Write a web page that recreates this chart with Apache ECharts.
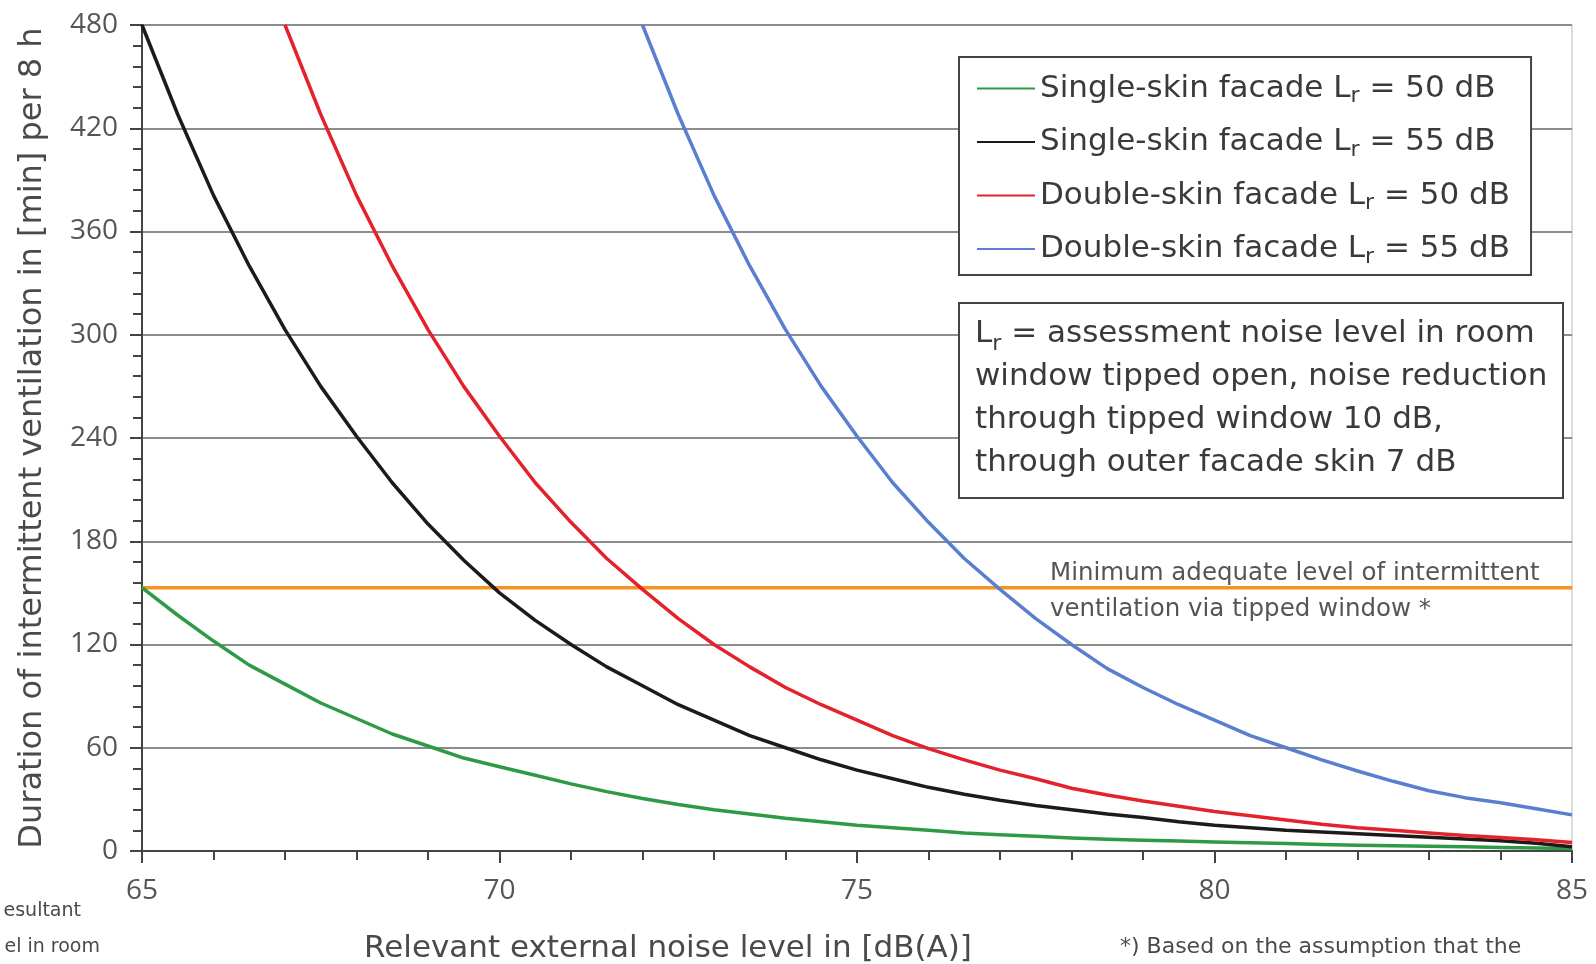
<!DOCTYPE html>
<html>
<head>
<meta charset="utf-8">
<script src="https://cdn.jsdelivr.net/npm/echarts@6/dist/echarts.min.js"></script>
<style>
html,body{margin:0;padding:0;background:#fff;}
#chart{width:1596px;height:964px;}
</style>
</head>
<body>
<div id="chart"></div>
<script>
// External noise level [dB(A)]
const noiseLevels = [65,65.5,66,66.5,67,67.5,68,68.5,69,69.5,70,70.5,71,71.5,72,72.5,73,73.5,74,74.5,75,75.5,76,76.5,77,77.5,78,78.5,79,79.5,80,80.5,81,81.5,82,82.5,83,83.5,84,84.5,85];

const seriesNames = [
  'Single-skin facade Lr = 50 dB',
  'Single-skin facade Lr = 55 dB',
  'Double-skin facade Lr = 50 dB',
  'Double-skin facade Lr = 55 dB'
];

// Duration of intermittent ventilation [min] per 8 h (null = above 480, off chart)
const singleSkin50 = [153,137,122,108,97,86,77,68,61,54,49,44,39,34.5,30.5,27,24,21.5,19,17,15,13.5,12,10.5,9.5,8.5,7.5,6.8,6.2,5.8,5.3,4.8,4.3,3.8,3.4,3,2.7,2.4,2.1,1.8,1.5];
const singleSkin55 = [480,428,381,340,303,270,241,214,190,169,150,134,120,107,96,85,76,67,60,53,47,42,37,33,29.5,26.5,24,21.5,19.5,17,15,13.5,12,11,10,9,8,7,6,4.5,2.5];
const doubleSkin50 = [null,null,null,null,480,428,381,340,303,270,241,214,191,170,152,135,120,107,95,85,76,67,59.5,53,47,42,36.5,32.5,29,26,23,20.5,18,15.5,13.5,12,10.5,9,7.8,6.5,5];
const doubleSkin55 = [null,null,null,null,null,null,null,null,null,null,null,null,null,null,480,428,381,340,303,270,241,214,191,170,152,135,120,106,95,85,76,67,60,53,46.5,40.5,35,31,28,24.5,21];

const minimumLevel = 153;

const yTicks = [0,60,120,180,240,300,360,420,480];
const xTicks = [65,70,75,80,85];

const seriesValues = [singleSkin50, singleSkin55, doubleSkin50, doubleSkin55];
const seriesColors = ['#2f9a45', '#1e1a1a', '#e4222c', '#5a7fd0'];

const NUM_FONT = 'Open Sans';
const FONT = 'DejaVu Sans';

function toPairs(arr){
  const out = [];
  noiseLevels.forEach((x,i)=>{ if(arr[i]!=null) out.push([x, arr[i]]); });
  return out;
}

const chart = echarts.init(document.getElementById('chart'), null, {renderer:'canvas'});

const series = seriesNames.map((name,i)=>({
  name: name,
  type: 'line',
  data: toPairs(seriesValues[i]),
  showSymbol: false,
  symbol: 'none',
  smooth: false,
  lineStyle: {color: seriesColors[i], width: 3.5, join: 'round'},
  itemStyle: {color: seriesColors[i]},
  z: 3
}));

series.push({
  name: 'Minimum',
  type: 'line',
  data: [[xTicks[0], minimumLevel],[xTicks[xTicks.length-1], minimumLevel]],
  showSymbol: false,
  symbol: 'none',
  lineStyle: {color: '#f7941d', width: 3.5},
  itemStyle: {color: '#f7941d'},
  z: 2
});

const richMain = {fontFamily: FONT, fontSize: 31, color: '#3a3a3a', lineHeight: 38};
const richSub = {fontFamily: FONT, fontSize: 22, color: '#3a3a3a', lineHeight: 20, verticalAlign: 'bottom'};

const option = {
  backgroundColor: '#ffffff',
  animation: false,
  grid: {
    left: 142, right: 24, top: 25, bottom: 113,
    show: true, borderColor: '#b8b8b8', borderWidth: 1
  },
  legend: {
    data: seriesNames,
    orient: 'vertical',
    left: 959, top: 57,
    backgroundColor: '#ffffff',
    borderColor: '#444',
    borderWidth: 2,
    borderRadius: 0,
    padding: [16, 21, 7, 18],
    itemGap: 19,
    itemWidth: 58,
    itemHeight: 2,
    icon: 'rect',
    formatter: function(n){
      const parts = n.split('Lr');
      return '{a|' + parts[0] + 'L}{s|r}{a|' + parts[1] + '}';
    },
    textStyle: {rich: {a: richMain, s: richSub}}
  },
  xAxis: {
    type: 'value',
    min: xTicks[0], max: xTicks[xTicks.length-1], interval: 5,
    axisLine: {show: true, onZero: false, lineStyle: {color: '#444', width: 2}},
    axisTick: {show: true, length: 12, lineStyle: {color: '#444', width: 2}},
    minorTick: {show: true, splitNumber: 5, length: 9, lineStyle: {color: '#444', width: 2}},
    splitLine: {show: false},
    axisLabel: {fontFamily: NUM_FONT, fontSize: 28, color: '#555', margin: 26}
  },
  yAxis: {
    type: 'value',
    min: yTicks[0], max: yTicks[yTicks.length-1], interval: 60,
    axisLine: {show: true, lineStyle: {color: '#444', width: 2}},
    axisTick: {show: true, length: 12, lineStyle: {color: '#444', width: 2}},
    minorTick: {show: true, splitNumber: 5, length: 9, lineStyle: {color: '#444', width: 2}},
    splitLine: {show: true, lineStyle: {color: '#8c8c8c', width: 2}},
    axisLabel: {fontFamily: NUM_FONT, fontSize: 28, color: '#555', margin: 24}
  },
  graphic: [
    {
      type: 'rect', z: 10,
      shape: {x: 959, y: 303, width: 604, height: 195},
      style: {fill: '#ffffff', stroke: '#444', lineWidth: 2}
    },
    {
      type: 'text', z: 11, left: 975, top: 318,
      style: {
        text: '{a|L}{s|r}{a| = assessment noise level in room}\n{a|window tipped open, noise reduction}\n{a|through tipped window 10 dB,}\n{a|through outer facade skin 7 dB}',
        rich: {
          a: {fontFamily: FONT, fontSize: 31, fill: '#3a3a3a', lineHeight: 43},
          s: {fontFamily: FONT, fontSize: 22, fill: '#3a3a3a', lineHeight: 26, verticalAlign: 'bottom'}
        }
      }
    },
    {
      type: 'text', z: 11, left: 1050, top: 556,
      style: {
        text: 'Minimum adequate level of intermittent\nventilation via tipped window *',
        fontFamily: FONT, fontSize: 24.5, fill: '#555', lineHeight: 36
      }
    },
    {
      type: 'text', z: 11,
      x: 33, y: 438, rotation: Math.PI/2,
      style: {
        text: 'Duration of intermittent ventilation in [min] per 8 h',
        fontFamily: FONT, fontSize: 32, fill: '#4a4a4a',
        align: 'center', verticalAlign: 'middle'
      }
    },
    {
      type: 'text', z: 11, x: 668, y: 949,
      style: {
        text: 'Relevant external noise level in [dB(A)]',
        fontFamily: FONT, fontSize: 31, fill: '#4a4a4a',
        align: 'center', verticalAlign: 'middle'
      }
    },
    {
      type: 'text', z: 11, x: 81, y: 911,
      style: {text: 'esultant', fontFamily: FONT, fontSize: 19, fill: '#4a4a4a', align: 'right', verticalAlign: 'middle'}
    },
    {
      type: 'text', z: 11, x: 100, y: 947,
      style: {text: 'el in room', fontFamily: FONT, fontSize: 19, fill: '#4a4a4a', align: 'right', verticalAlign: 'middle'}
    },
    {
      type: 'text', z: 11, x: 1120, y: 947,
      style: {text: '*) Based on the assumption that the', fontFamily: FONT, fontSize: 22, fill: '#4a4a4a', align: 'left', verticalAlign: 'middle'}
    }
  ],
  series: series
};

chart.setOption(option);
</script>
</body>
</html>
